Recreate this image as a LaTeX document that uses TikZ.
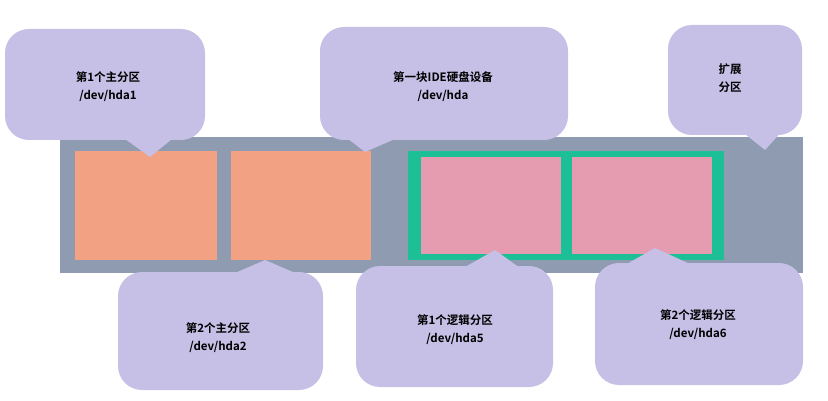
\documentclass[tikz,border=0pt]{standalone}
\usepackage{fontspec}
\setmainfont{Noto Sans CJK SC}[BoldFont={Noto Sans CJK SC Bold}]
\begin{document}
\begin{tikzpicture}[x=1pt,y=-1pt,
 callout/.style={fill=bubble,draw=none,rounded corners=24pt},
 tip/.style={fill=bubble,draw=none},
 lbl/.style={font=\bfseries\fontsize{11.5}{18}\selectfont,align=center,text=black}]
\definecolor{bubble}{HTML}{C6BFE6}
\definecolor{barc}{HTML}{8E9BB1}
\definecolor{orng}{HTML}{F2A283}
\definecolor{pnk}{HTML}{E59CB0}
\definecolor{teal}{HTML}{1DBF96}
\useasboundingbox (0,0) rectangle (828,401);
\fill[barc] (60,137) rectangle (803,273);
\node[fill=orng,minimum width=142pt,minimum height=109pt,inner sep=0] (p1) at (146,205.5) {};
\node[fill=orng,minimum width=140pt,minimum height=109pt,inner sep=0] (p2) at (301,205.5) {};
\node[fill=teal,minimum width=316pt,minimum height=109pt,inner sep=0] (ext) at (566,205.5) {};
\node[fill=pnk,minimum width=140pt,minimum height=97pt,inner sep=0] (l5) at (491,205.5) {};
\node[fill=pnk,minimum width=140pt,minimum height=97pt,inner sep=0] (l6) at (642,205.5) {};
% callouts
\fill[callout] (5,29) rectangle (205,140);
\fill[tip] (125,139) -- (150,157) -- (172,139) -- cycle;
\node[lbl] (c1) at (108,87) {第1个主分区\\/dev/hda1};
\fill[callout] (320,27) rectangle (568,140);
\fill[tip] (330,125) -- (365,152) -- (395,139) -- cycle;
\node[lbl] (c2) at (443,87) {第一块IDE硬盘设备\\/dev/hda};
\fill[callout] (668,25) rectangle (802,135);
\fill[tip] (745,134) -- (765,150) -- (785,128) -- cycle;
\node[lbl] (c3) at (730,78) {扩展\\分区};
\fill[callout] (118,272) rectangle (323,390);
\fill[tip] (235,273) -- (265,260) -- (300,275) -- cycle;
\node[lbl] (c4) at (218,338) {第2个主分区\\/dev/hda2};
\fill[callout] (356,266) rectangle (553,387);
\fill[tip] (465,267) -- (495,250) -- (520,268) -- cycle;
\node[lbl] (c5) at (455,330) {第1个逻辑分区\\/dev/hda5};
\fill[callout] (595,263) rectangle (803,385);
\fill[tip] (625,265) -- (655,248) -- (690,264) -- cycle;
\node[lbl] (c6) at (698,325) {第2个逻辑分区\\/dev/hda6};
\end{tikzpicture}
\end{document}
